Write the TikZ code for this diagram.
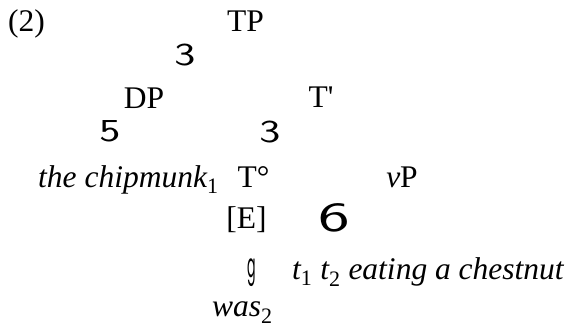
\documentclass[tikz,border=0pt]{standalone}
\usepackage{fontspec}
\setmainfont{Liberation Serif}
\newfontfamily\gfont{Poppins}
\begin{document}
\begin{tikzpicture}[x=1pt,y=-1pt,
  lbl/.style={inner sep=0pt,font=\fontsize{31.5}{36}\selectfont},
  brn/.style={inner sep=0pt,font=\sffamily\fontsize{32}{38}\selectfont,xscale=1.4}]
\useasboundingbox (0,0) rectangle (566,331);
\node[lbl,anchor=base west] (ex) at (8,32) {(2)};
\node[lbl,anchor=base] (tp) at (245.5,32) {TP};
\node[brn] (b1) at (185,55) {3};
\node[lbl,anchor=base] (dp) at (144,109) {DP};
\node[lbl,anchor=base] (tbar) at (321,108) {T\textquotesingle};
\node[brn] (b2) at (110,131) {5};
\node[brn] (b3) at (270,132) {3};
\node[lbl,anchor=base west] (subj) at (38,188) {\itshape the chipmunk\textsubscript{\upshape 1}};
\node[lbl,anchor=base] (t0) at (253.5,188) {T°};
\node[lbl,anchor=base] (vp) at (402,188) {\itshape v\upshape P};
\node[lbl,anchor=base] (e) at (246.5,229) {[E]};
\node[brn,xscale=1.5,yscale=1.3] (b4) at (334,218) {6};
\node[inner sep=0pt,font=\gfont\fontsize{28}{34}\selectfont,xscale=0.45,yscale=1.2] (b5) at (252,273) {g};
\node[lbl,anchor=base west] (vpc) at (292,280) {\itshape t\textsubscript{\upshape 1} t\textsubscript{\upshape 2} eating a chestnut};
\node[lbl,anchor=base west] (was) at (212,317) {\itshape was\textsubscript{\upshape 2}};
\end{tikzpicture}
\end{document}
